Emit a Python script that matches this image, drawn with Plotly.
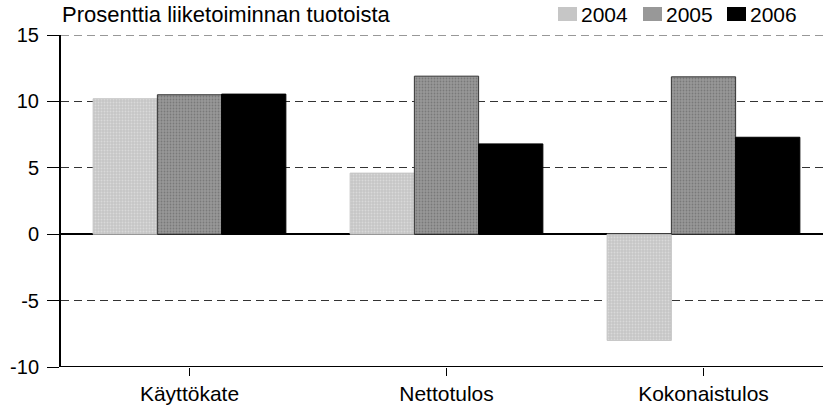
import plotly.graph_objects as go

categories = ["Käyttökate", "Nettotulos", "Kokonaistulos"]
years = ["2004", "2005", "2006"]
values_2004 = [10.2, 4.6, -8.0]
values_2005 = [10.5, 11.9, 11.85]
values_2006 = [10.55, 6.8, 7.3]
y_ticks = [-10, -5, 0, 5, 10, 15]
y_tick_labels = ["-10", "-5", "0", "5", "10", "15"]
title_text = "Prosenttia liiketoiminnan tuotoista"

series = [values_2004, values_2005, values_2006]
colors = ["#c6c6c6", "#989898", "#000000"]
pattern_fg = ["#ececec", "#5a5a5a", "#000000"]
line_colors = ["#c6c6c6", "#333333", "#000000"]

ARIAL = "Arial, Liberation Sans, sans-serif"

fig = go.Figure()
for name, vals, col, fg, lc in zip(years, series, colors, pattern_fg, line_colors):
    fig.add_trace(go.Bar(
        x=categories, y=vals, name=name, showlegend=False,
        marker=dict(color=col, line=dict(color=lc, width=1),
                    pattern=dict(shape="." if name != "2006" else "",
                                 fgcolor=fg, size=3, solidity=0.3)),
    ))

# plot area geometry in pixels (used to place the legend boxes)
W, H = 823, 408
ML, MR, MT, MB = 61, 0, 35, 41
pw, ph = W - ML - MR, H - MT - MB

def px_x(px):
    return (px - ML) / pw

def px_y(py):
    return (H - MB - py) / ph

shapes = [
    # bottom axis line
    dict(type="line", xref="paper", yref="y", x0=0, x1=1, y0=-10, y1=-10,
         line=dict(color="#000", width=2)),
    # dashed gridline at the top of the range
    dict(type="line", xref="paper", yref="y", x0=0, x1=1, y0=15, y1=15,
         line=dict(color="#333", width=1, dash="8px,5px"), layer="below"),
]
annotations = [
    dict(text=title_text, x=px_x(61), xref="paper", xanchor="left",
         y=px_y(15), yref="paper", yanchor="middle", borderpad=0,
         showarrow=False, font=dict(family=ARIAL, size=22, color="#000")),
]

# legend: swatch box followed by the year label
legend_x = [558, 643, 727]
for name, col, fg, x0 in zip(years, colors, pattern_fg, legend_x):
    shapes.append(dict(type="rect", xref="paper", yref="paper",
                       x0=px_x(x0), x1=px_x(x0 + 19), y0=px_y(21), y1=px_y(7),
                       fillcolor=col, line=dict(color=col, width=0)))
    annotations.append(dict(text=name, x=px_x(x0 + 22), xref="paper", xanchor="left",
                            y=px_y(14), yref="paper", yanchor="middle",
                            showarrow=False, borderpad=0,
                            font=dict(family=ARIAL, size=21, color="#000")))

fig.update_layout(
    width=W, height=H,
    margin=dict(l=ML, r=MR, t=MT, b=MB),
    paper_bgcolor="white", plot_bgcolor="white",
    barmode="group", bargap=0.25, bargroupgap=0,
    font=dict(family=ARIAL, size=20, color="#000"),
    xaxis=dict(range=[-0.5, 2.465], showgrid=False, showline=False,
               ticks="outside", ticklen=8, tickcolor="#000", tickwidth=1,
               tickfont=dict(family=ARIAL, size=21, color="#000"), zeroline=False),
    yaxis=dict(range=[-10, 15], tickvals=y_ticks, ticktext=y_tick_labels,
               showgrid=True, gridcolor="#333", griddash="8px,5px", gridwidth=1,
               showline=True, linecolor="#000", linewidth=2,
               ticks="outside", ticklen=12, tickcolor="#000",
               ticklabelstandoff=4,
               tickfont=dict(family=ARIAL, size=20, color="#000"),
               zeroline=True, zerolinecolor="#000", zerolinewidth=2),
    shapes=shapes,
    annotations=annotations,
)

fig.write_html("out.html")
